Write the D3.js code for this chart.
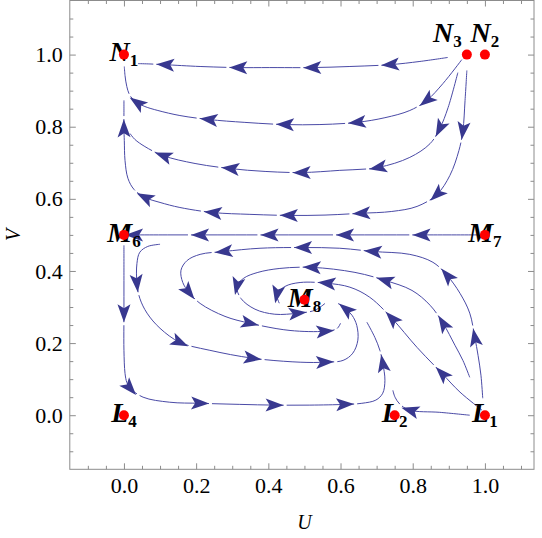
<!DOCTYPE html>
<html>
<head>
<meta charset="utf-8">
<script src="https://cdn.jsdelivr.net/npm/d3@7"></script>
<style>
  body { margin: 0; background: #fff; }
  svg { display: block; }
</style>
</head>
<body>
<svg id="chart" width="542" height="538"></svg>
<script>
// ticks
var majorTicks = [0, 0.2, 0.4, 0.6, 0.8, 1.0];
var minorTicks = [-0.1, -0.05, 0.05, 0.1, 0.15, 0.25, 0.3, 0.35, 0.45, 0.5, 0.55, 0.65, 0.7, 0.75, 0.85, 0.9, 0.95, 1.05, 1.1];

// equilibrium points and their labels
var pointU = [0, 1, 0.95, 0, 1, 0.5, 1, 0.75, 0];
var pointV = [1, 1, 1, 0.5, 0.5, 0.32, 0, 0, 0];
var pointLetter = ["N", "N", "N", "M", "M", "M", "L", "L", "L"];
var pointSub = ["1", "2", "3", "6", "7", "8", "1", "2", "4"];
var labelU = [0, 1, 0.896, 0, 1, 0.5, 1, 0.75, 0];
var labelV = [1, 1.054, 1.054, 0.5, 0.5, 0.32, 0, 0, 0];

// stream lines, [U, V]; arrows = indices of points carrying an arrow head
var stream1 = [[0.897,0.992],[0.820,0.981],[0.737,0.972],[0.626,0.967],[0.521,0.964],[0.404,0.964],[0.316,0.964],[0.211,0.967],[0.114,0.972],[0.072,0.974],[0.039,0.975]];
var arrows1 = [2, 4, 6, 8];
var stream2 = [[0.936,0.986],[0.884,0.920],[0.839,0.873],[0.792,0.845],[0.723,0.825],[0.645,0.812],[0.543,0.806],[0.446,0.806],[0.335,0.812],[0.235,0.820],[0.155,0.831],[0.094,0.845],[0.058,0.856],[0.036,0.867],[0.017,0.886],[0.008,0.911],[0.003,0.942],[0.001,0.967]];
var arrows2 = [2, 5, 7, 9, 13];
var stream3 = [[0.925,0.950],[0.898,0.853],[0.875,0.795],[0.848,0.753],[0.792,0.715],[0.704,0.687],[0.598,0.679],[0.493,0.673],[0.391,0.676],[0.294,0.684],[0.197,0.698],[0.108,0.720],[0.058,0.745],[0.030,0.765],[0.017,0.781]];
var arrows3 = [2, 5, 7, 9, 11];
var stream4 = [[0.950,0.956],[0.945,0.873],[0.939,0.789],[0.928,0.734],[0.903,0.665],[0.867,0.612],[0.812,0.579],[0.742,0.565],[0.657,0.560],[0.557,0.555],[0.457,0.554],[0.349,0.557],[0.247,0.562],[0.155,0.576],[0.100,0.590],[0.058,0.604],[0.028,0.626],[0.011,0.657],[0.003,0.706],[0.001,0.762],[0,0.795],[0,0.839],[0,0.873]];
var arrows4 = [2, 5, 8, 10, 12, 15, 20];
var stream5 = [[0.981,0.5],[0.825,0.5],[0.72,0.5],[0.612,0.5],[0.51,0.5],[0.404,0.5],[0.31,0.5],[0.211,0.5],[0.12,0.5],[0.028,0.5],[0.006,0.5]];
var arrows5 = [1, 3, 5, 7, 9];
var stream6 = [[0.994,0.047],[0.989,0.111],[0.981,0.166],[0.972,0.216],[0.958,0.283],[0.931,0.338],[0.895,0.388],[0.856,0.424],[0.792,0.446],[0.690,0.454],[0.598,0.463],[0.496,0.465],[0.377,0.463],[0.277,0.454],[0.211,0.446],[0.175,0.429],[0.158,0.402],[0.163,0.368],[0.180,0.341],[0.211,0.310],[0.280,0.274],[0.349,0.255],[0.460,0.235],[0.557,0.233],[0.590,0.240],[0.600,0.255]];
var arrows6 = [3, 6, 9, 11, 13, 18, 21, 23];
var stream7 = [[0.1,0.474],[0.066,0.468],[0.044,0.452],[0.036,0.421],[0.036,0.366],[0.044,0.324],[0.064,0.283],[0.1,0.241],[0.155,0.202],[0.238,0.180],[0.357,0.158],[0.488,0.147],[0.557,0.147],[0.607,0.152],[0.634,0.172],[0.648,0.208],[0.645,0.249],[0.632,0.277],[0.615,0.294],[0.593,0.310]];
var arrows7 = [4, 8, 10, 12, 18];
var stream8 = [[0,0.471],[0,0.374],[0,0.283],[0,0.18],[0.003,0.116],[0.008,0.091],[0.017,0.075],[0.053,0.050],[0.127,0.036],[0.211,0.033],[0.321,0.030],[0.418,0.028],[0.515,0.028],[0.612,0.030],[0.659,0.033],[0.698,0.042],[0.717,0.061],[0.723,0.097],[0.717,0.144],[0.709,0.180],[0.695,0.216],[0.673,0.258]];
var arrows8 = [2, 6, 9, 11, 13, 18];
var stream9 = [[0.958,0.0],[0.875,0.008],[0.792,0.014],[0.765,0.030],[0.751,0.050],[0.745,0.069]];
var arrows9 = [2];
var stream10 = [[0.992,0.014],[0.931,0.064],[0.881,0.116],[0.812,0.188],[0.742,0.269],[0.681,0.327],[0.626,0.355],[0.562,0.366],[0.488,0.368],[0.446,0.357],[0.424,0.335],[0.432,0.307]];
var arrows10 = [2, 4, 7, 10];
var stream11 = [[0.958,0.105],[0.939,0.152],[0.917,0.194],[0.884,0.255],[0.848,0.305],[0.798,0.346],[0.723,0.374],[0.640,0.396],[0.521,0.410],[0.432,0.407],[0.371,0.396],[0.332,0.380],[0.313,0.357],[0.324,0.324],[0.363,0.294],[0.418,0.280],[0.482,0.283],[0.529,0.291],[0.557,0.310]];
var arrows11 = [3, 6, 8, 12, 16];

var streams = [
  {pts: stream1, arrows: arrows1}, {pts: stream2, arrows: arrows2},
  {pts: stream3, arrows: arrows3}, {pts: stream4, arrows: arrows4},
  {pts: stream5, arrows: arrows5}, {pts: stream6, arrows: arrows6},
  {pts: stream7, arrows: arrows7}, {pts: stream8, arrows: arrows8},
  {pts: stream9, arrows: arrows9}, {pts: stream10, arrows: arrows10},
  {pts: stream11, arrows: arrows11}
];

(function() {
var svg = d3.select("#chart");
var serif = "'Liberation Serif', 'Times New Roman', serif";
var frameColor = "#8c8c8c";
var lineColor = "#4a4aa6";
var arrowColor = "#38388f";

// plot range is a bit short of 1.15 on the right
var pLeft = 69.8, pRight = 534, pTop = 0.5, pBottom = 469.3;
var x = d3.scaleLinear().domain([-0.15, 1.136]).range([pLeft, pRight]);
var y = d3.scaleLinear().domain([-0.15, 1.15]).range([pBottom, pTop]);

// frame + ticks (inward, on all four sides)
function styleAxis(g) {
  g.select(".domain").remove();
  g.selectAll(".tick line").attr("stroke", frameColor);
  g.selectAll("text").attr("font-family", serif).attr("font-size", 22).attr("fill", "#000");
}
svg.append("g").attr("transform", "translate(0," + pBottom + ")")
  .call(d3.axisBottom(x).tickValues(majorTicks).tickSize(-6).tickPadding(8).tickFormat(d3.format(".1f"))).call(styleAxis);
svg.append("g").attr("transform", "translate(0," + pBottom + ")")
  .call(d3.axisBottom(x).tickValues(minorTicks).tickSize(-3.5).tickFormat("")).call(styleAxis);
svg.append("g").attr("transform", "translate(" + pLeft + ",0)")
  .call(d3.axisLeft(y).tickValues(majorTicks).tickSize(-6).tickPadding(7).tickFormat(d3.format(".1f"))).call(styleAxis);
svg.append("g").attr("transform", "translate(" + pLeft + ",0)")
  .call(d3.axisLeft(y).tickValues(minorTicks).tickSize(-3.5).tickFormat("")).call(styleAxis);
svg.append("g").attr("transform", "translate(0," + pTop + ")")
  .call(d3.axisTop(x).tickValues(majorTicks).tickSize(-6).tickFormat("")).call(styleAxis);
svg.append("g").attr("transform", "translate(0," + pTop + ")")
  .call(d3.axisTop(x).tickValues(minorTicks).tickSize(-3.5).tickFormat("")).call(styleAxis);
svg.append("g").attr("transform", "translate(" + pRight + ",0)")
  .call(d3.axisRight(y).tickValues(majorTicks).tickSize(-6).tickFormat("")).call(styleAxis);
svg.append("g").attr("transform", "translate(" + pRight + ",0)")
  .call(d3.axisRight(y).tickValues(minorTicks).tickSize(-3.5).tickFormat("")).call(styleAxis);

svg.append("rect")
  .attr("x", pLeft).attr("y", pTop)
  .attr("width", pRight - pLeft).attr("height", pBottom - pTop)
  .attr("fill", "none").attr("stroke", frameColor).attr("stroke-width", 1);

// axis titles
svg.append("text")
  .attr("x", x(0.5)).attr("y", 529)
  .attr("text-anchor", "middle")
  .attr("font-family", serif).attr("font-style", "italic").attr("font-size", 20)
  .text("U");
svg.append("text")
  .attr("transform", "translate(20," + y(0.5) + ") rotate(-90)")
  .attr("text-anchor", "middle")
  .attr("font-family", serif).attr("font-style", "italic").attr("font-size", 20)
  .text("V");

// stream lines with arrow heads
var line = d3.line()
  .x(function(d) { return x(d[0]); })
  .y(function(d) { return y(d[1]); })
  .curve(d3.curveCatmullRom.alpha(0.5));

var arrowHead = "M9,0 L-9,-6.5 L-5,0 L-9,6.5 Z";
var gStream = svg.append("g");

streams.forEach(function(s) {
  var p = gStream.append("path")
    .attr("d", line(s.pts))
    .attr("fill", "none")
    .attr("stroke", lineColor)
    .attr("stroke-width", 1);
  var node = p.node();
  var total = node.getTotalLength();
  var samples = d3.range(0, total, 0.5).map(function(l) {
    var q = node.getPointAtLength(l);
    return {l: l, x: q.x, y: q.y};
  });
  var cuts = [];
  s.arrows.forEach(function(i) {
    var px = x(s.pts[i][0]), py = y(s.pts[i][1]);
    var best = d3.least(samples, function(q) { return (q.x - px) * (q.x - px) + (q.y - py) * (q.y - py); });
    var a = node.getPointAtLength(Math.max(best.l - 3, 0));
    var b = node.getPointAtLength(Math.min(best.l + 3, total));
    var ang = Math.atan2(b.y - a.y, b.x - a.x) * 180 / Math.PI;
    gStream.append("path")
      .attr("d", arrowHead)
      .attr("transform", "translate(" + best.x + "," + best.y + ") rotate(" + ang + ")")
      .attr("fill", arrowColor);
    cuts.push(best.l + 9);
  });
  // little break in front of every arrow tip
  cuts.sort(d3.ascending);
  var dash = [], prev = 0;
  cuts.forEach(function(c) {
    if (c < total) { dash.push(c - prev, 3); prev = c + 3; }
  });
  dash.push(Math.max(total - prev, 0) + 1, 0);
  p.attr("stroke-dasharray", dash.join(","));
});

// point labels, then the red dots on top
var labels = svg.append("g");
d3.range(pointU.length).forEach(function(i) {
  var t = labels.append("text")
    .attr("x", x(labelU[i])).attr("y", y(labelV[i]))
    .attr("dy", "0.42em")
    .attr("text-anchor", "middle")
    .attr("font-family", serif).attr("font-weight", "bold");
  t.append("tspan").attr("font-style", "italic").attr("font-size", 28).text(pointLetter[i]);
  t.append("tspan").attr("font-size", 17).attr("dy", 5).text(pointSub[i]);
});

svg.append("g").selectAll("circle")
  .data(d3.range(pointU.length))
  .join("circle")
  .attr("cx", function(i) { return x(pointU[i]); })
  .attr("cy", function(i) { return y(pointV[i]); })
  .attr("r", 5)
  .attr("fill", "#ff0000");
})();
</script>
</body>
</html>
